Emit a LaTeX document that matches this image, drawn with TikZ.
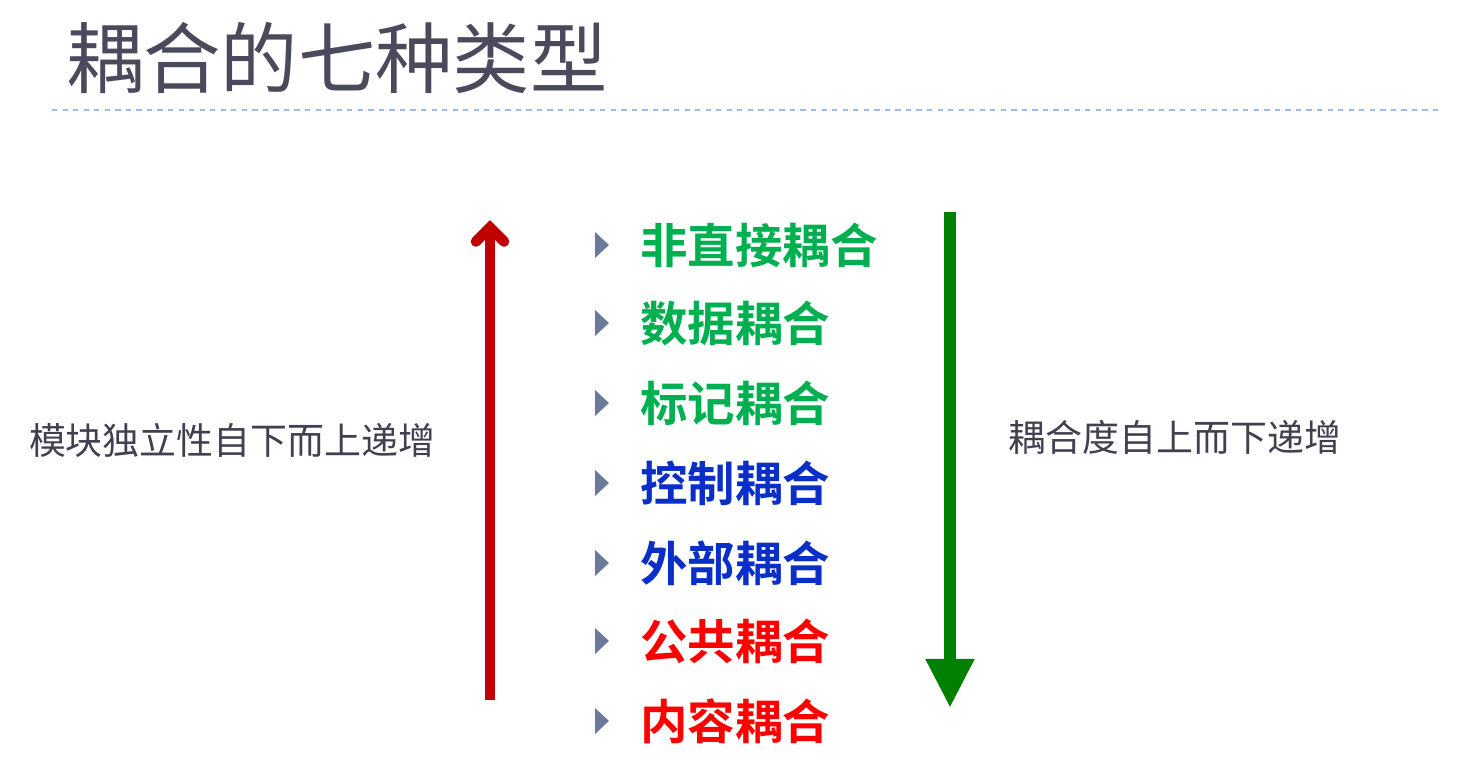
\documentclass[tikz,border=0pt]{standalone}
\usepackage{fontspec}
\setmainfont{Noto Sans CJK SC}
\newfontfamily\cjkbold{Noto Sans CJK SC}[BoldFont={* Bold}]
\usetikzlibrary{arrows.meta}
\definecolor{titlegray}{HTML}{4A4A5C}
\definecolor{textgray}{HTML}{404050}
\definecolor{itemgreen}{HTML}{00B050}
\definecolor{itemblue}{HTML}{0A2FC8}
\definecolor{itemred}{HTML}{FF0000}
\definecolor{darkgreen}{HTML}{008000}
\definecolor{darkred}{HTML}{C00000}
\definecolor{bulletgray}{HTML}{6B7A9A}
\definecolor{rulecolor}{HTML}{9DBCE0}
\begin{document}
\begin{tikzpicture}[x=0.02cm,y=-0.02cm,
  item node/.style={anchor=west,inner sep=0pt,font=\cjkbold\bfseries\fontsize{27}{30}\selectfont},
  side node/.style={inner sep=0pt,text=textgray,font=\fontsize{21}{24}\selectfont},
  bullet/.style={fill=bulletgray,draw=none}]
  \useasboundingbox (0,0) rectangle (1472,782);
  \node[anchor=west,inner sep=0pt,text=titlegray,font=\fontsize{44}{48}\selectfont] (title) at (66,58) {耦合的七种类型};
  \draw[rulecolor,dashed,thick] (52,110) -- (1438,110);

  \foreach \y/\txt/\col [count=\i] in {245/非直接耦合/itemgreen,323/数据耦合/itemgreen,403/标记耦合/itemgreen,
      483/控制耦合/itemblue,563/外部耦合/itemblue,641/公共耦合/itemred,721/内容耦合/itemred}{
    \fill[bullet] (595,\y-13) -- (609,\y) -- (595,\y+13) -- cycle;
    \node[item node,text=\col] (item\i) at (640,\y) {\txt};
  }

  \coordinate (redbot) at (490,700);
  \coordinate (redtop) at (490,220);
  \draw[darkred,line width=6pt,-{Straight Barb[length=8pt,width=16pt,line cap=round]}] (redbot) -- (redtop);
  \coordinate (greentop) at (950,212);
  \coordinate (greenbot) at (950,708);
  \draw[darkgreen,line width=7pt,-{Triangle[length=28pt,width=26pt]}] (greentop) -- (greenbot);

  \node[side node] (left) at (232,440) {模块独立性自下而上递增};
  \node[side node] (right) at (1175,437) {耦合度自上而下递增};
\end{tikzpicture}
\end{document}
